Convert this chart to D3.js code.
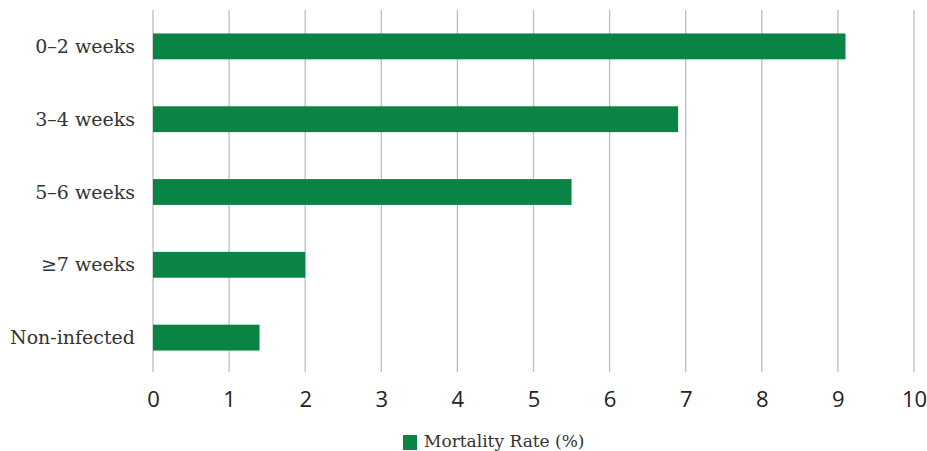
<!DOCTYPE html>
<html><head><meta charset="utf-8">
<script src="https://cdn.jsdelivr.net/npm/d3@7"></script>
<style>body{margin:0;background:#fff}</style>
</head><body>
<svg id="c" width="927" height="451"></svg>
<script>
const categories = ["0–2 weeks", "3–4 weeks", "5–6 weeks", "≥7 weeks", "Non-infected"];
const mortality = [9.1, 6.9, 5.5, 2.0, 1.4];
const xTicks = [0,1,2,3,4,5,6,7,8,9,10];
const seriesName = "Mortality Rate (%)";

const svg = d3.select("#c");
const x = d3.scaleLinear().domain([0,10]).range([153,914]);
const y = d3.scaleBand().domain(categories).range([10,374]).paddingInner(0.645).paddingOuter(0.3225);
const green = "#0a8445";
const serif = "'DejaVu Serif', serif";

// grid
svg.append("g").selectAll("line").data(xTicks).join("line")
  .attr("x1", d=>x(d)).attr("x2", d=>x(d)).attr("y1", 10).attr("y2", 372)
  .attr("stroke", "#bdbdbd").attr("stroke-width", 1.3);

// bars
svg.append("g").selectAll("rect").data(categories).join("rect")
  .attr("x", x(0)).attr("y", d=>y(d))
  .attr("width", (d,i)=>x(mortality[i])-x(0)).attr("height", y.bandwidth())
  .attr("fill", green);

// y labels
svg.append("g").selectAll("text").data(categories).join("text")
  .attr("x", 135).attr("y", d=>y(d)+y.bandwidth()/2).attr("dy","0.35em")
  .attr("text-anchor","end").attr("font-family", serif).attr("font-size", 19)
  .attr("fill","#333").text(d=>d);

// x axis labels
const xa = svg.append("g").attr("transform","translate(0,372)")
  .call(d3.axisBottom(x).tickValues(xTicks).tickSize(0).tickPadding(19).tickFormat(d3.format("d")));
xa.select(".domain").remove();
xa.selectAll("text").attr("font-family","'Open Sans', sans-serif").attr("font-size",22).attr("fill","#222");

// legend
const lg = svg.append("g");
lg.append("rect").attr("x",403).attr("y",435).attr("width",14).attr("height",15).attr("fill",green);
lg.append("text").attr("x",424).attr("y",447).attr("font-family",serif).attr("font-size",17)
  .attr("fill","#333").text(seriesName);
</script>
</body></html>
